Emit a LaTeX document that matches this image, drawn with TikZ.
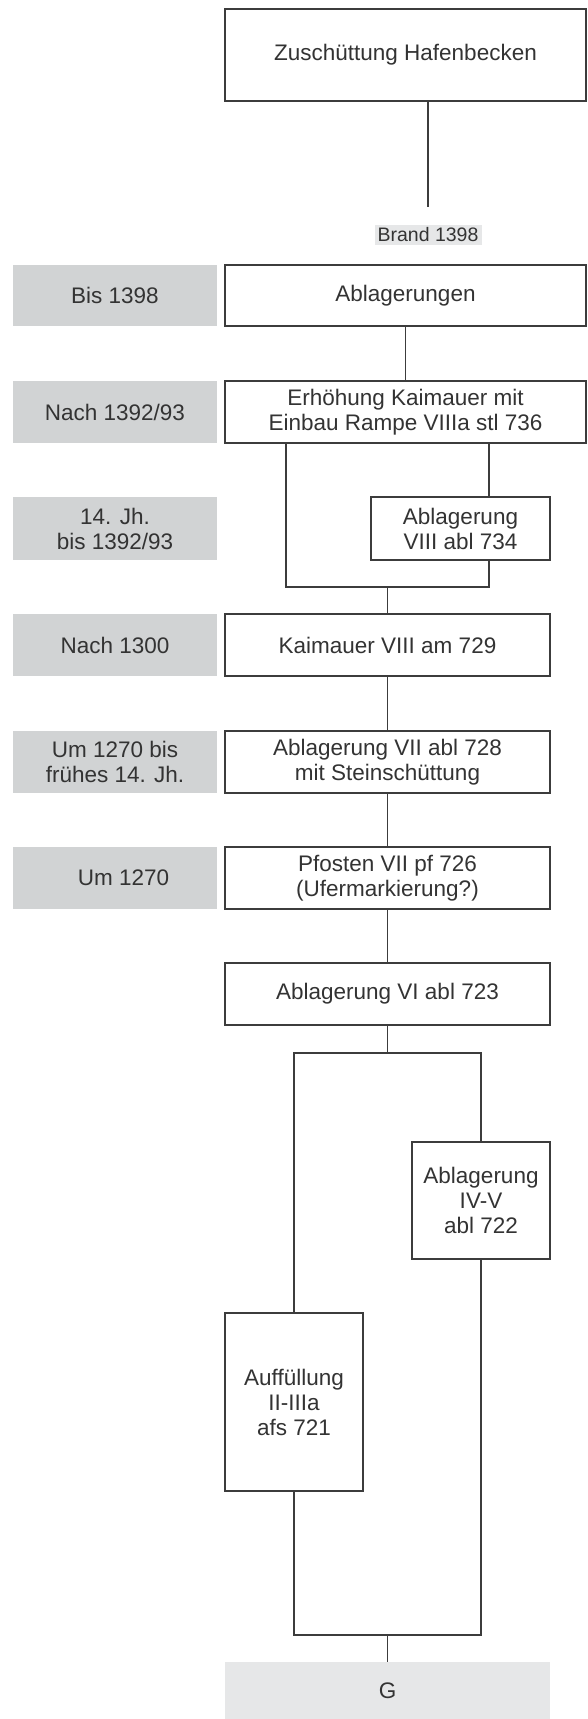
\documentclass[tikz,border=0pt]{standalone}
\usepackage{fontspec}
\setmainfont{Liberation Sans}
\definecolor{ln}{HTML}{3C3C3C}
\definecolor{tx}{HTML}{333333}
\definecolor{gr}{HTML}{D1D3D4}
\definecolor{lg}{HTML}{E6E7E8}
\tikzset{
  box/.style={draw=ln, line width=1.5pt, fill=white, inner sep=0pt, align=center, text=tx,
    font=\fontsize{22.5}{25}\selectfont},
  datebox/.style={fill=gr, inner sep=0pt, align=center, text=tx,
    font=\fontsize{22.5}{25}\selectfont},
  conn/.style={draw=ln, line width=1.4pt},
}
\begin{document}
\begin{tikzpicture}[x=1pt,y=-1pt]
\useasboundingbox (0,0) rectangle (587,1719);
% main boxes
\node[box, minimum width=361pt, minimum height=92pt] (top) at (405.5,55) {Zuschüttung Hafenbecken};
\node[fill=lg, inner sep=0pt, minimum width=107pt, minimum height=20pt, text=tx,
      font=\fontsize{19.5}{22}\selectfont] (brand) at (428,235) {Brand 1398};
\node[datebox, minimum width=204pt, minimum height=61pt] (bis) at (115,295.5) {Bis 1398};
\node[box, minimum width=361pt, minimum height=61pt] (abl) at (405.5,295.5) {Ablagerungen};
\node[datebox, minimum width=204pt, minimum height=62pt] (n1392) at (115,412) {Nach 1392/93};
\node[box, minimum width=361pt, minimum height=62pt] (erh) at (405.5,412) {Erhöhung Kaimauer mit\\Einbau Rampe VIIIa stl 736};
\node[datebox, minimum width=204pt, minimum height=63pt] (jh14) at (115,528.5) {14. Jh.\\bis 1392/93};
\node[box, minimum width=179pt, minimum height=63pt] (abl734) at (460.5,528.5) {Ablagerung\\VIII abl 734};
\node[datebox, minimum width=204pt, minimum height=62pt] (n1300) at (115,645) {Nach 1300};
\node[box, minimum width=325pt, minimum height=62pt] (kai) at (387.5,645) {Kaimauer VIII am 729};
\node[datebox, minimum width=204pt, minimum height=62pt] (um1270bis) at (115,762) {Um 1270 bis\\frühes 14. Jh.};
\node[box, minimum width=325pt, minimum height=62pt] (abl728) at (387.5,762) {Ablagerung VII abl 728\\mit Steinschüttung};
\node[datebox, minimum width=204pt, minimum height=62pt] (um1270) at (115,878) {\hspace*{17pt}Um 1270};
\node[box, minimum width=325pt, minimum height=62pt] (pf726) at (387.5,878) {Pfosten VII pf 726\\(Ufermarkierung?)};
\node[box, minimum width=325pt, minimum height=62pt] (abl723) at (387.5,994) {Ablagerung VI abl 723};
\node[box, minimum width=138pt, minimum height=117pt] (abl722) at (481,1200.5) {Ablagerung\\IV-V\\abl 722};
\node[box, minimum width=138pt, minimum height=178pt] (afs721) at (294,1402) {Auffüllung\\II-IIIa\\afs 721};
\node[fill=lg, inner sep=0pt, minimum width=325pt, minimum height=57pt, text=tx,
      font=\fontsize{22.5}{25}\selectfont] (G) at (387.5,1690.5) {G};
% coordinates
\coordinate (t1) at (428,207);
\coordinate (a) at (286,587);
\coordinate (b) at (489,587);
\coordinate (j1) at (387.5,587);
\coordinate (c) at (294,1053);
\coordinate (d) at (481,1053);
\coordinate (j2) at (387.5,1053);
\coordinate (e) at (294,1635);
\coordinate (f) at (481,1635);
\coordinate (j3) at (387.5,1635);
% connectors
\draw[conn] (top.south -| t1) -- (t1);
\draw[conn] (abl.south) -- (erh.north);
\draw[conn] (erh.south -| a) -- (a) -- (b) -- (abl734.south -| b);
\draw[conn] (erh.south -| b) -- (abl734.north -| b);
\draw[conn] (j1) -- (kai.north);
\draw[conn] (kai.south) -- (abl728.north);
\draw[conn] (abl728.south) -- (pf726.north);
\draw[conn] (pf726.south) -- (abl723.north);
\draw[conn] (abl723.south) -- (j2);
\draw[conn] (afs721.north) -- (c) -- (d) -- (abl722.north);
\draw[conn] (afs721.south) -- (e) -- (f) -- (abl722.south);
\draw[conn] (j3) -- (G.north);
\end{tikzpicture}
\end{document}
